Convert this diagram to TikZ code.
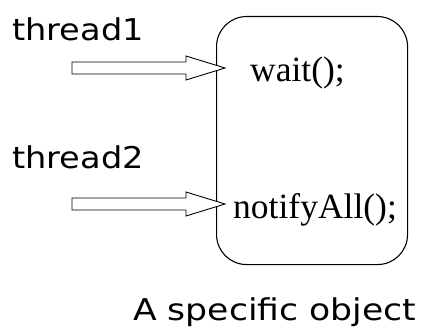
\documentclass[tikz,border=0pt]{standalone}
\usepackage{fontspec}
\setmainfont{Liberation Serif}
\newfontfamily\comic{DejaVu Sans}
\begin{document}
\begin{tikzpicture}[x=1pt,y=-1pt,
  lbl/.style={anchor=base west,inner sep=0pt,xscale=1.12,font=\comic\fontsize{30}{36}\selectfont},
  code/.style={anchor=base west,inner sep=0pt,font=\fontsize{35.5}{40}\selectfont},
  blockarrow/.style={draw,line width=0.9pt,fill=white,line join=miter}]
\useasboundingbox (0,0) rectangle (436,331);
\node[draw,line width=1.1pt,rounded corners=30pt,minimum width=191pt,minimum height=248pt,anchor=north west] (obj) at (216,16) {};
\node[lbl] (t1) at (12,41) {thread1};
\node[lbl] (t2) at (12,169) {thread2};
\node[lbl,xscale=1.03] (cap) at (133,320) {A specific object};
\node[code] (w) at (250,82) {wait();};
\node[code] (n) at (233,218) {notifyAll();};
\coordinate (tip1) at (225,68);
\coordinate (tip2) at (225,204);
\foreach \t in {tip1,tip2}{
  \draw[blockarrow] ([shift={(-153,-6)}]\t) -- ([shift={(-39,-6)}]\t) -- ([shift={(-39,-12)}]\t)
    -- (\t) -- ([shift={(-39,12)}]\t) -- ([shift={(-39,6)}]\t) -- ([shift={(-153,6)}]\t) -- cycle;
}
\end{tikzpicture}
\end{document}
